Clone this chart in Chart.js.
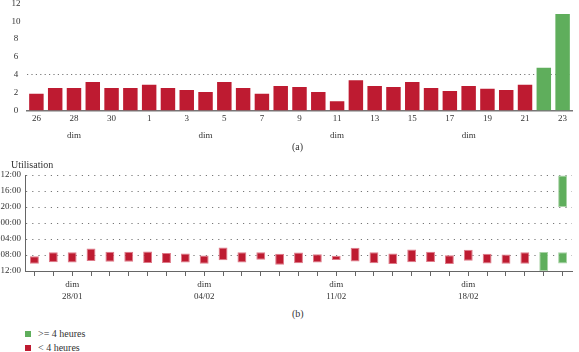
<!DOCTYPE html>
<html>
<head>
<meta charset="utf-8">
<script src="https://cdn.jsdelivr.net/npm/chart.js@4/dist/chart.umd.min.js"></script>
<style>
  body { margin: 0; background: #fff; }
  #wrap { position: relative; width: 579px; height: 352px; background: #fff; overflow: hidden;
          font-family: "Liberation Serif", "DejaVu Serif", serif; color: #333; }
  .box { position: absolute; left: 0; }
  .txt { position: absolute; font-size: 10px; line-height: 12px; height: 12px; white-space: nowrap; z-index: 2; }
  .sq { position: absolute; width: 6px; height: 6px; }
</style>
</head>
<body>
<div id="wrap">
  <div class="box" style="top:0;width:579px;height:150px"><canvas id="chartA" width="579" height="150"></canvas></div>
  <div class="box" style="top:160px;width:579px;height:145px"><canvas id="chartB" width="579" height="145"></canvas></div>
  <div class="txt" style="left:292px;top:141px">(a)</div>
  <div class="txt" style="left:11px;top:159px">Utilisation</div>
  <div class="txt" style="left:292px;top:308px">(b)</div>
  <div class="sq" style="left:25px;top:331px;background:#5fae5c"></div>
  <div class="txt" style="left:38px;top:328px">&gt;= 4 heures</div>
  <div class="sq" style="left:25px;top:345px;background:#be1b31"></div>
  <div class="txt" style="left:38px;top:342px">&lt; 4 heures</div>
</div>
<script>
// one entry per day, 26/01 -> 23/02
const dates = ['26/01','27/01','28/01','29/01','30/01','31/01',
  '01/02','02/02','03/02','04/02','05/02','06/02','07/02','08/02','09/02','10/02',
  '11/02','12/02','13/02','14/02','15/02','16/02','17/02','18/02','19/02','20/02',
  '21/02','22/02','23/02'];
const sundays = ['28/01','04/02','11/02','18/02'];

// (a) hours of use per day
const hoursUsed = [1.9, 2.55, 2.55, 3.2, 2.55, 2.55, 2.9, 2.55, 2.3, 2.1, 3.2, 2.55, 1.9, 2.75,
  2.65, 2.1, 1.05, 3.4, 2.75, 2.65, 3.2, 2.55, 2.2, 2.75, 2.45, 2.3, 2.9, 4.8, 10.8];

// (b) sessions, in hours counted from 12:00 (0) to next 12:00 (24)
const sessionStart = [20.3, 19.3, 19.3, 18.4, 19.2, 19.2, 19.1, 19.5, 19.6, 20.1, 18.1, 19.3, 19.3, 19.7,
  19.4, 19.8, 20.2, 18.2, 19.3, 19.6, 18.6, 19.2, 20.05, 18.7, 19.7, 19.9, 19.3, 19.25, 19.3];
const sessionEnd = [22.2, 21.8, 21.85, 21.5, 21.7, 21.7, 22.0, 22.0, 21.9, 22.2, 21.3, 21.85, 21.2, 22.45,
  22.05, 21.9, 21.25, 21.6, 22.05, 22.25, 21.8, 21.75, 22.25, 21.45, 22.15, 22.2, 22.2, 24, 22.1];
const extraStart = [null,null,null,null,null,null,null,null,null,null,null,null,null,null,
  null,null,null,null,null,null,null,null,null,null,null,null,null,null,0];
const extraEnd = [null,null,null,null,null,null,null,null,null,null,null,null,null,null,
  null,null,null,null,null,null,null,null,null,null,null,null,null,null,8];

const threshold = 4;
const RED = '#be1b31', GREEN = '#5fae5c';
const RED_EDGE = '#df7a89', GREEN_EDGE = '#a9d3a6';
const FONT = '"Liberation Serif", "DejaVu Serif", serif';

const colorFor = h => h >= threshold ? GREEN : RED;
const edgeFor = h => h >= threshold ? GREEN_EDGE : RED_EDGE;

// tick labels: (a) every other day number + "dim" on sundays, (b) "dim" + date on sundays
const labelsA = dates.map((d, i) => [i % 2 === 0 ? String(parseInt(d, 10)) : '', sundays.includes(d) ? 'dim' : '']);
const labelsB = dates.map(d => sundays.includes(d) ? ['dim', d] : '');

const hourLabel = v => String((12 + v) % 24).padStart(2, '0') + ':00';

// keep chart area where the figure has it (no extra room for half labels)
const noPad = s => { s.paddingTop = 0; s.paddingBottom = 0; s.paddingLeft = 0; s.paddingRight = 0; };

new Chart(document.getElementById('chartA'), {
  type: 'bar',
  data: {
    labels: labelsA,
    datasets: [{
      data: hoursUsed,
      backgroundColor: hoursUsed.map(colorFor),
      barPercentage: 0.77,
      categoryPercentage: 1
    }]
  },
  options: {
    responsive: false,
    animation: false,
    layout: { padding: { top: 3.3, right: 7, left: 0, bottom: 0 } },
    plugins: { legend: { display: false }, tooltip: { enabled: false } },
    scales: {
      x: {
        grid: { display: false, drawTicks: false },
        border: { display: true, color: '#777', width: 1.5 },
        ticks: { autoSkip: false, maxRotation: 0, padding: -1, color: '#333',
                 font: { family: FONT, size: 9, lineHeight: 17 / 9 } },
        afterFit: s => { s.height = 39.3; noPad(s); }
      },
      y: {
        min: 0, max: 12,
        ticks: { stepSize: 2, crossAlign: 'center', padding: 6.5, color: '#333',
                 font: { family: FONT, size: 9 } },
        grid: { drawTicks: false, lineWidth: 1,
                color: c => (c.tick && c.tick.value === threshold) ? '#777' : 'rgba(0,0,0,0)' },
        border: { display: false, dash: [1.2, 3.2] },
        afterFit: s => { s.width = 27; noPad(s); }
      }
    }
  }
});

new Chart(document.getElementById('chartB'), {
  type: 'bar',
  data: {
    labels: labelsB,
    datasets: [{
      data: sessionStart.map((s, i) => [s, sessionEnd[i]]),
      backgroundColor: hoursUsed.map(colorFor),
      borderColor: hoursUsed.map(edgeFor),
      borderWidth: 1,
      borderSkipped: false,
      barPercentage: 0.47,
      categoryPercentage: 1,
      grouped: false
    }, {
      data: extraStart.map((s, i) => s === null ? null : [s, extraEnd[i]]),
      backgroundColor: hoursUsed.map(colorFor),
      borderColor: hoursUsed.map(edgeFor),
      borderWidth: 1,
      borderSkipped: false,
      barPercentage: 0.47,
      categoryPercentage: 1,
      grouped: false
    }]
  },
  options: {
    responsive: false,
    animation: false,
    layout: { padding: { top: 15, right: 7, left: 0, bottom: 0 } },
    plugins: { legend: { display: false }, tooltip: { enabled: false } },
    scales: {
      x: {
        grid: { display: true, drawOnChartArea: false, drawTicks: true, tickLength: 5,
                color: '#666', offset: false },
        border: { display: true, color: '#666', width: 1 },
        ticks: { autoSkip: false, maxRotation: 0, padding: 3, color: '#333',
                 font: { family: FONT, size: 9, lineHeight: 12 / 9 } },
        afterFit: s => { s.height = 34; noPad(s); }
      },
      y: {
        reverse: true,
        min: 0, max: 24,
        ticks: { stepSize: 4, padding: 4, color: '#333', callback: hourLabel,
                 font: { family: FONT, size: 9 } },
        grid: { drawTicks: false, color: '#777', lineWidth: 1 },
        border: { display: true, color: '#666', width: 1, dash: [1.2, 5] },
        afterFit: s => { s.width = 25; noPad(s); }
      }
    }
  }
});
</script>
</body>
</html>
